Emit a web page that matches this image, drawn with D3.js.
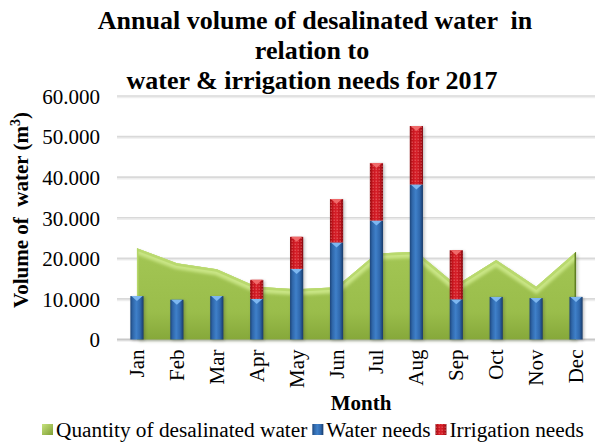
<!DOCTYPE html>
<html>
<head>
<meta charset="utf-8">
<script src="https://cdn.jsdelivr.net/npm/d3@7"></script>
<style>
  html, body { margin: 0; padding: 0; background: #fff; }
  svg { display: block; font-family: "Liberation Serif", "Times New Roman", serif; }
</style>
</head>
<body>
<svg id="chart" width="595" height="443"></svg>
<script>
// Monthly figures for 2017 (m3)
const months = ["Jan", "Feb", "Mar", "Apr", "May", "Jun", "Jul", "Aug", "Sep", "Oct", "Nov", "Dec"];
const desalinated = [22500, 18800, 17300, 13000, 12400, 12900, 21200, 21600, 13400, 19600, 13000, 21600];
const waterNeeds = [10700, 9800, 10700, 10000, 17400, 23900, 29300, 38200, 9900, 10500, 10200, 10500];
const irrigationNeeds = [0, 0, 0, 4700, 7900, 10700, 14200, 14400, 12100, 0, 0, 0];
const yTicks = [0, 10000, 20000, 30000, 40000, 50000, 60000];
const titleLines = ["Annual volume of desalinated water  in", "relation to", "water & irrigation needs for 2017"];
const legendItems = ["Quantity of desalinated water", "Water needs", "Irrigation needs"];

const svg = d3.select("#chart");
const defs = svg.append("defs");

const x = d3.scaleBand().domain(months).range([117, 596]).paddingInner(0.67).paddingOuter(0.335);
const y = d3.scaleLinear().domain([0, 60000]).range([339.5, 96]);
const cx = m => x(m) + x.bandwidth() / 2;

// gradients
function hGrad(id, stops) {
  const g = defs.append("linearGradient").attr("id", id).attr("x1", 0).attr("x2", 1).attr("y1", 0).attr("y2", 0);
  stops.forEach(([o, c]) => g.append("stop").attr("offset", o).attr("stop-color", c));
}
hGrad("blueGrad", [[0, "#1c4479"], [0.18, "#2f66a8"], [0.45, "#3f80c9"], [0.75, "#2f68ad"], [1, "#183a68"]]);
hGrad("redGrad", [[0, "#8e0a10"], [0.2, "#c3141c"], [0.5, "#d8202a"], [0.8, "#bd121a"], [1, "#830810"]]);

const vg = defs.append("linearGradient").attr("id", "greenBody").attr("x1", 0).attr("x2", 0).attr("y1", 0).attr("y2", 1);
[[0, "#a3c654"], [0.7, "#9abd4b"], [1, "#86a83a"]].forEach(([o, c]) => vg.append("stop").attr("offset", o).attr("stop-color", c));

// dotted texture for irrigation segments
const pat = defs.append("pattern").attr("id", "dots").attr("patternUnits", "userSpaceOnUse").attr("width", 3).attr("height", 3);
pat.append("rect").attr("width", 1.2).attr("height", 1.2).attr("x", 0.6).attr("y", 0.6).attr("fill", "#ff9a9a").attr("opacity", 0.55);

const legendGreen = defs.append("linearGradient").attr("id", "lgGreen").attr("x1", 0).attr("x2", 1).attr("y1", 0).attr("y2", 1);
[[0, "#c6e27e"], [1, "#7f9f33"]].forEach(([o, c]) => legendGreen.append("stop").attr("offset", o).attr("stop-color", c));

const blurF = defs.append("filter").attr("id", "soft").attr("x", "-20%").attr("y", "-20%").attr("width", "140%").attr("height", "140%");
blurF.append("feGaussianBlur").attr("stdDeviation", 1.6);

// title
const title = svg.append("text").attr("font-weight", "bold").attr("font-size", 26).attr("fill", "#000")
  .attr("text-anchor", "middle").style("white-space", "pre");
titleLines.forEach((t, i) => {
  title.append("tspan").attr("x", i === 0 ? 315 : 312).attr("y", 29 + i * 30).text(t);
});

// gridlines
const grid = svg.append("g");
yTicks.forEach(t => {
  grid.append("line").attr("x1", 117).attr("x2", 595).attr("y1", y(t) + 1.5).attr("y2", y(t) + 1.5)
    .attr("stroke", "#eeeeee").attr("stroke-width", 1.5);
  grid.append("line").attr("x1", 117).attr("x2", 595).attr("y1", y(t)).attr("y2", y(t))
    .attr("stroke", t === 0 ? "#c8c8c8" : "#d9d9d9").attr("stroke-width", t === 0 ? 2 : 1.6);
});

// y tick labels
const yAxis = d3.axisLeft(y).tickValues(yTicks).tickSize(0).tickPadding(0)
  .tickFormat(d => d === 0 ? "0" : d3.format(",")(d).replace(",", "."));
const yg = svg.append("g").attr("transform", "translate(100,0)").call(yAxis);
yg.select(".domain").remove();
yg.selectAll("text").attr("font-size", 21).attr("font-family", "Liberation Serif, serif").attr("fill", "#000").attr("dy", "0.35em");

// y axis title
const yt = svg.append("text").attr("transform", "translate(28,210) rotate(-90)").attr("text-anchor", "middle")
  .attr("font-weight", "bold").attr("font-size", 21).style("white-space", "pre");
yt.append("tspan").text("Volume of  water (m");
yt.append("tspan").attr("font-size", 14).attr("dy", -8).text("3");
yt.append("tspan").attr("dy", 8).text(")");

// desalinated water area
const pts = months.map((m, i) => [cx(m), y(desalinated[i])]);
const areaGen = d3.area().x(d => d[0]).y0(y(0)).y1(d => d[1]);
const lineGen = d3.line().x(d => d[0]).y(d => d[1]);

defs.append("clipPath").attr("id", "areaClip").append("path").attr("d", areaGen(pts));

// soft shadow under the area
svg.append("path").attr("d", areaGen(pts)).attr("transform", "translate(2,2)")
  .attr("fill", "#6f7f50").attr("opacity", 0.35).attr("filter", "url(#soft)");
svg.append("path").attr("d", areaGen(pts)).attr("fill", "url(#greenBody)");
const hl = svg.append("g").attr("clip-path", "url(#areaClip)");
hl.append("path").attr("d", lineGen(pts)).attr("fill", "none").attr("stroke", "#c9e585").attr("stroke-width", 12)
  .attr("filter", "url(#soft)");
hl.append("path").attr("d", lineGen(pts)).attr("fill", "none").attr("stroke", "#b9d96e").attr("stroke-width", 5);
hl.append("path").attr("d", `M${pts[11][0]},${pts[11][1]} L${pts[11][0]},${y(0)}`).attr("stroke", "#5f7e22").attr("stroke-width", 3);
hl.append("path").attr("d", `M${pts[0][0]},${pts[0][1]} L${pts[0][0]},${y(0)}`).attr("stroke", "#b6d66a").attr("stroke-width", 3);

// stacked bars
const bars = svg.append("g");
const bw = x.bandwidth();
months.forEach((m, i) => {
  const x0 = x(m);
  const wTop = y(waterNeeds[i]);
  const total = waterNeeds[i] + irrigationNeeds[i];
  // shadow
  bars.append("rect").attr("x", x0 + 1.5).attr("y", y(total) + 1).attr("width", bw).attr("height", y(0) - y(total))
    .attr("fill", "#333").attr("opacity", 0.3).attr("filter", "url(#soft)");
  bars.append("rect").attr("x", x0).attr("y", wTop).attr("width", bw).attr("height", y(0) - wTop).attr("fill", "url(#blueGrad)");
  bars.append("path").attr("d", `M${x0 + 1},${wTop} L${x0 + bw - 1},${wTop} L${x0 + bw / 2},${wTop + 5} Z`).attr("fill", "#7db7f0");
  if (irrigationNeeds[i] > 0) {
    const rTop = y(total);
    bars.append("rect").attr("x", x0).attr("y", rTop).attr("width", bw).attr("height", wTop - rTop).attr("fill", "url(#redGrad)");
    bars.append("rect").attr("x", x0).attr("y", rTop).attr("width", bw).attr("height", wTop - rTop).attr("fill", "url(#dots)");
    bars.append("path").attr("d", `M${x0 + 1},${rTop} L${x0 + bw - 1},${rTop} L${x0 + bw / 2},${rTop + 5} Z`).attr("fill", "#f06a6a");
  }
});

// x axis labels
const xAxis = d3.axisBottom(x).tickSize(0).tickPadding(0);
const xg = svg.append("g").attr("transform", `translate(0,${y(0)})`).call(xAxis);
xg.select(".domain").remove();
xg.selectAll("text").attr("font-size", 21).attr("font-family", "Liberation Serif, serif").attr("fill", "#000")
  .attr("text-anchor", "end").attr("transform", "translate(7,10) rotate(-90)").attr("dy", 0).attr("y", 0);

svg.append("text").attr("x", 361).attr("y", 410).attr("text-anchor", "middle").attr("font-weight", "bold")
  .attr("font-size", 21).text("Month");

// legend
const lg = svg.append("g");
const fills = ["url(#lgGreen)", "url(#blueGrad)", "url(#redGrad)"];
let lx = 42;
legendItems.forEach((t, i) => {
  lg.append("rect").attr("x", lx).attr("y", 424).attr("width", 11).attr("height", 11).attr("fill", fills[i]);
  if (i === 2) lg.append("rect").attr("x", lx).attr("y", 424).attr("width", 11).attr("height", 11).attr("fill", "url(#dots)");
  const tx = lg.append("text").attr("x", lx + 14).attr("y", 437).attr("font-size", 21.3).text(t);
  lx += 14 + tx.node().getComputedTextLength() + 5;
});
</script>
</body>
</html>
